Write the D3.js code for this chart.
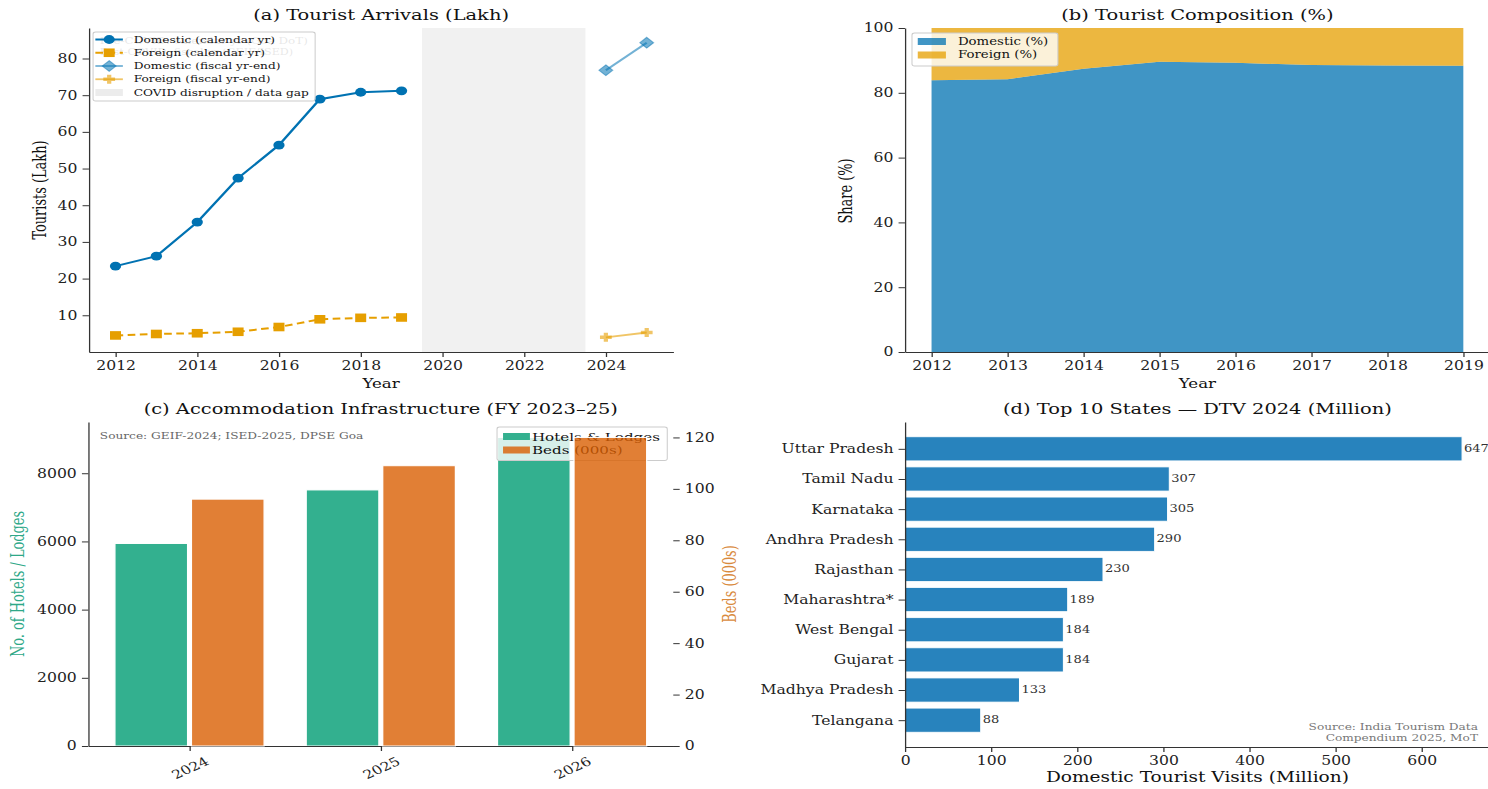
<!DOCTYPE html>
<html>
<head>
<meta charset="utf-8">
<script src="https://cdn.jsdelivr.net/npm/d3@7"></script>
<style>
  html, body { margin: 0; padding: 0; background: #ffffff; }
  svg { display: block; }
</style>
</head>
<body>
<svg id="fig"></svg>
<script>
// ---------- data ----------
const calYears      = [2012, 2013, 2014, 2015, 2016, 2017, 2018, 2019];
const domesticCal   = [23.4, 26.1, 35.4, 47.4, 56.4, 68.9, 70.8, 71.2];   // lakh
const foreignCal    = [4.5, 4.9, 5.1, 5.5, 6.8, 8.9, 9.3, 9.4];           // lakh
const fiscalYears   = [2024, 2025];
const domesticFisc  = [76.8, 84.3];
const foreignFisc   = [4.0, 5.3];
const covidGap      = [2019.5, 2023.5];
const arrivalsTicksX = [2012, 2014, 2016, 2018, 2020, 2022, 2024];
const arrivalsTicksY = [10, 20, 30, 40, 50, 60, 70, 80];

const shareTicksY   = [0, 20, 40, 60, 80, 100];

const infraYears    = ["2024", "2025", "2026"];
const hotelsLodges  = [5940, 7510, 9050];
const bedsThousands = [96, 109, 120];
const hotelTicks    = [0, 2000, 4000, 6000, 8000];
const bedTicks      = [0, 20, 40, 60, 80, 100, 120];

const states   = ["Uttar Pradesh", "Tamil Nadu", "Karnataka", "Andhra Pradesh", "Rajasthan",
                  "Maharashtra*", "West Bengal", "Gujarat", "Madhya Pradesh", "Telangana"];
const stateDTV = [647, 307, 305, 290, 230, 189, 184, 184, 133, 88];
const dtvTicks = [0, 100, 200, 300, 400, 500, 600];

// ---------- figure setup ----------
// The figure is laid out on a narrower canvas and stretched to the window width.
const SX = 1.28, W = 1488 / SX, H = 789;
const svg = d3.select("#fig")
  .attr("width", 1488).attr("height", H)
  .attr("viewBox", `0 0 ${W} ${H}`)
  .attr("preserveAspectRatio", "none");

const FONT = "DejaVu Serif, serif";
const FS = { title: 15.2, tick: 12.2, label: 13, ylabel: 14.4, legend: 9.5 };
const C_DOM = "#0072B2", C_FOR = "#E69F00";
const C_TEAL = "#33b08f", C_ORANGE = "#d95f02", C_BAR = "#2883bd";

const A = { x0: 69.5, x1: 526,  y0: 28,  y1: 352 };
const B = { x0: 707,  x1: 1164, y0: 28,  y1: 352 };
const C = { x0: 69,   x1: 526,  y0: 422, y1: 746 };
const D = { x0: 707,  x1: 1164, y0: 422, y1: 747 };

function styleAxis(g) {
  g.attr("font-family", FONT).attr("font-size", FS.tick);
  g.selectAll("path.domain").attr("stroke", "#333").attr("stroke-width", 1);
  g.selectAll(".tick line").attr("stroke", "#333").attr("stroke-width", 1);
  g.selectAll(".tick text").attr("fill", "#222");
  return g;
}
function padded(vals, frac = 0.05) {
  const lo = d3.min(vals), hi = d3.max(vals), p = (hi - lo) * frac;
  return [lo - p, hi + p];
}
function title(p, txt) {
  svg.append("text").attr("x", (p.x0 + p.x1) / 2).attr("y", p.y0 - 8)
    .attr("text-anchor", "middle").attr("font-family", FONT).attr("font-size", FS.title)
    .attr("fill", "#111").text(txt);
}
function xLabel(p, txt, dy = 36, size = FS.label) {
  svg.append("text").attr("x", (p.x0 + p.x1) / 2).attr("y", p.y1 + dy)
    .attr("text-anchor", "middle").attr("font-family", FONT).attr("font-size", size)
    .attr("fill", "#111").text(txt);
}
function yLabel(x, yc, txt, color = "#111") {
  svg.append("text").attr("transform", `translate(${x},${yc}) rotate(-90)`)
    .attr("text-anchor", "middle").attr("dominant-baseline", "central")
    .attr("font-family", FONT).attr("font-size", FS.ylabel).attr("font-stretch", "condensed")
    .attr("fill", color).text(txt);
}
function plusPath(s) {
  const w = s * 0.36;
  return `M${-w},${-s}H${w}V${-w}H${s}V${w}H${w}V${s}H${-w}V${w}H${-s}V${-w}H${-w}Z`;
}
function diamondPath(s) { return `M0,${-s}L${s},0L0,${s}L${-s},0Z`; }
function squarePath(s) { return `M${-s},${-s}H${s}V${s}H${-s}Z`; }

// ---------- (a) Tourist Arrivals ----------
const xA = d3.scaleLinear().domain(padded([...calYears, ...fiscalYears])).range([A.x0, A.x1]);
const yA = d3.scaleLinear()
  .domain(padded([...domesticCal, ...foreignCal, ...domesticFisc, ...foreignFisc]))
  .range([A.y1, A.y0]);

svg.append("rect").attr("x", xA(covidGap[0])).attr("y", A.y0)
  .attr("width", xA(covidGap[1]) - xA(covidGap[0])).attr("height", A.y1 - A.y0)
  .attr("fill", "#f1f1f1");

styleAxis(svg.append("g").attr("transform", `translate(0,${A.y1})`)
  .call(d3.axisBottom(xA).tickValues(arrivalsTicksX).tickFormat(d3.format("d"))
    .tickSize(5).tickPadding(4).tickSizeOuter(0)));
styleAxis(svg.append("g").attr("transform", `translate(${A.x0},0)`)
  .call(d3.axisLeft(yA).tickValues(arrivalsTicksY).tickSize(5).tickPadding(4).tickSizeOuter(0)));

const lineA = d3.line().x(d => xA(d[0])).y(d => yA(d[1]));
const zip = (xs, ys) => xs.map((x, i) => [x, ys[i]]);

// domestic, calendar year
svg.append("path").datum(zip(calYears, domesticCal)).attr("d", lineA)
  .attr("fill", "none").attr("stroke", C_DOM).attr("stroke-width", 2);
svg.selectAll(null).data(zip(calYears, domesticCal)).enter().append("circle")
  .attr("cx", d => xA(d[0])).attr("cy", d => yA(d[1])).attr("r", 4.4).attr("fill", C_DOM);
// foreign, calendar year
svg.append("path").datum(zip(calYears, foreignCal)).attr("d", lineA)
  .attr("fill", "none").attr("stroke", C_FOR).attr("stroke-width", 2).attr("stroke-dasharray", "6,3.5");
svg.selectAll(null).data(zip(calYears, foreignCal)).enter().append("path")
  .attr("transform", d => `translate(${xA(d[0])},${yA(d[1])})`).attr("d", squarePath(4.3)).attr("fill", C_FOR);
// domestic, fiscal year-end
svg.append("path").datum(zip(fiscalYears, domesticFisc)).attr("d", lineA)
  .attr("fill", "none").attr("stroke", C_DOM).attr("stroke-opacity", 0.55).attr("stroke-width", 1.8);
svg.selectAll(null).data(zip(fiscalYears, domesticFisc)).enter().append("path")
  .attr("transform", d => `translate(${xA(d[0])},${yA(d[1])})`).attr("d", diamondPath(5.4))
  .attr("fill", C_DOM).attr("fill-opacity", 0.55).attr("stroke", C_DOM).attr("stroke-opacity", 0.45);
// foreign, fiscal year-end
svg.append("path").datum(zip(fiscalYears, foreignFisc)).attr("d", lineA)
  .attr("fill", "none").attr("stroke", C_FOR).attr("stroke-opacity", 0.6).attr("stroke-width", 1.8);
svg.selectAll(null).data(zip(fiscalYears, foreignFisc)).enter().append("path")
  .attr("transform", d => `translate(${xA(d[0])},${yA(d[1])})`).attr("d", plusPath(4.6))
  .attr("fill", C_FOR).attr("fill-opacity", 0.6);

// data-source note (sits beneath the legend)
const noteA = svg.append("g").attr("font-family", FONT).attr("font-size", FS.legend).attr("fill", "#8a8a8a");
noteA.append("text").attr("x", 78).attr("y", 41).attr("dominant-baseline", "central")
  .attr("textLength", 162.5).attr("lengthAdjust", "spacingAndGlyphs")
  .text("Pre-COVID: calendar yr (Goa DoT)");
noteA.append("text").attr("x", 78).attr("y", 52).attr("dominant-baseline", "central")
  .attr("textLength", 151).attr("lengthAdjust", "spacingAndGlyphs")
  .text("Post-COVID: fiscal yr (GEIF/ISED)");

// legend (a)
const legA = svg.append("g").attr("font-family", FONT).attr("font-size", FS.legend);
legA.append("rect").attr("x", 72.7).attr("y", 32).attr("width", 173.5).attr("height", 69).attr("rx", 2)
  .attr("fill", "#fff").attr("fill-opacity", 0.8).attr("stroke", "#cccccc").attr("stroke-width", 0.8);
const legItemsA = [
  { label: "Domestic (calendar yr)", kind: "circle" },
  { label: "Foreign (calendar yr)", kind: "square" },
  { label: "Domestic (fiscal yr-end)", kind: "diamond" },
  { label: "Foreign (fiscal yr-end)", kind: "plus" },
  { label: "COVID disruption / data gap", kind: "span" }
];
legItemsA.forEach((it, i) => {
  const y = 39.5 + i * 13.25, g = legA.append("g").attr("transform", `translate(0,${y})`);
  if (it.kind === "circle") {
    g.append("line").attr("x1", 74.5).attr("x2", 96).attr("stroke", C_DOM).attr("stroke-width", 2);
    g.append("circle").attr("cx", 85.3).attr("r", 4.4).attr("fill", C_DOM);
  } else if (it.kind === "square") {
    g.append("line").attr("x1", 74.5).attr("x2", 96).attr("stroke", C_FOR).attr("stroke-width", 2).attr("stroke-dasharray", "6,3.5");
    g.append("path").attr("transform", "translate(85.3,0)").attr("d", squarePath(4.3)).attr("fill", C_FOR);
  } else if (it.kind === "diamond") {
    g.append("line").attr("x1", 74.5).attr("x2", 96).attr("stroke", C_DOM).attr("stroke-opacity", 0.55).attr("stroke-width", 1.8);
    g.append("path").attr("transform", "translate(85.3,0)").attr("d", diamondPath(5.4))
      .attr("fill", C_DOM).attr("fill-opacity", 0.55).attr("stroke", C_DOM).attr("stroke-opacity", 0.45);
  } else if (it.kind === "plus") {
    g.append("line").attr("x1", 74.5).attr("x2", 96).attr("stroke", C_FOR).attr("stroke-opacity", 0.6).attr("stroke-width", 1.8);
    g.append("path").attr("transform", "translate(85.3,0)").attr("d", plusPath(4.6)).attr("fill", C_FOR).attr("fill-opacity", 0.6);
  } else {
    g.append("rect").attr("x", 74.5).attr("y", -3.5).attr("width", 21.5).attr("height", 7).attr("fill", "#ececec");
  }
  g.append("text").attr("x", 104.5).attr("dominant-baseline", "central").attr("fill", "#111").text(it.label);
});

title(A, "(a) Tourist Arrivals (Lakh)");
xLabel(A, "Year");
yLabel(31, 190, "Tourists (Lakh)");

// ---------- (b) Tourist Composition ----------
const shares = calYears.map((yr, i) => {
  const dom = domesticCal[i] / (domesticCal[i] + foreignCal[i]) * 100;
  return { year: yr, dom, tot: 100 };
});
const xB = d3.scaleLinear().domain(padded(calYears)).range([B.x0, B.x1]);
const yB = d3.scaleLinear().domain([0, 100]).range([B.y1, B.y0]);

svg.append("defs").append("clipPath").attr("id", "clipB")
  .append("rect").attr("x", B.x0).attr("y", B.y0 - 1).attr("width", B.x1 - B.x0).attr("height", B.y1 - B.y0 + 2);
const gB = svg.append("g").attr("clip-path", "url(#clipB)");
gB.append("path").datum(shares)
  .attr("d", d3.area().x(d => xB(d.year)).y0(yB(0)).y1(d => yB(d.dom)))
  .attr("fill", C_DOM).attr("fill-opacity", 0.75);
gB.append("path").datum(shares)
  .attr("d", d3.area().x(d => xB(d.year)).y0(d => yB(d.dom)).y1(d => yB(d.tot)))
  .attr("fill", C_FOR).attr("fill-opacity", 0.75);

styleAxis(svg.append("g").attr("transform", `translate(0,${B.y1})`)
  .call(d3.axisBottom(xB).tickValues(calYears).tickFormat(d3.format("d"))
    .tickSize(5).tickPadding(4).tickSizeOuter(0)));
styleAxis(svg.append("g").attr("transform", `translate(${B.x0},0)`)
  .call(d3.axisLeft(yB).tickValues(shareTicksY).tickSize(5).tickPadding(4).tickSizeOuter(0)));

const legB = svg.append("g").attr("font-family", FONT).attr("font-size", 10.4);
legB.append("rect").attr("x", 712.5).attr("y", 33).attr("width", 114).attr("height", 33).attr("rx", 2)
  .attr("fill", "#fff").attr("fill-opacity", 0.8).attr("stroke", "#cccccc").attr("stroke-width", 0.8);
[["Domestic (%)", C_DOM], ["Foreign (%)", C_FOR]].forEach((it, i) => {
  const y = 41.5 + i * 13.5;
  legB.append("rect").attr("x", 717).attr("y", y - 3.5).attr("width", 22).attr("height", 7)
    .attr("fill", it[1]).attr("fill-opacity", 0.75);
  legB.append("text").attr("x", 748.4).attr("y", y).attr("dominant-baseline", "central")
    .attr("fill", "#111").text(it[0]);
});

title(B, "(b) Tourist Composition (%)");
xLabel(B, "Year");
yLabel(661, 191, "Share (%)");

// ---------- (c) Accommodation Infrastructure ----------
const nInfra = infraYears.length;
const xC = d3.scaleLinear().domain(padded([-0.39, nInfra - 1 + 0.39])).range([C.x0, C.x1]);
const yCL = d3.scaleLinear().domain([0, d3.max(hotelsLodges) * 1.05]).range([C.y1, C.y0]);
const yCR = d3.scaleLinear().domain([0, d3.max(bedsThousands) * 1.05]).range([C.y1, C.y0]);
const BW = 0.38, OFF = 0.2;

svg.selectAll(null).data(hotelsLodges).enter().append("rect")
  .attr("x", (d, i) => xC(i - OFF - BW / 2)).attr("width", xC(BW) - xC(0))
  .attr("y", d => yCL(d)).attr("height", d => yCL(0) - yCL(d))
  .attr("fill", C_TEAL).attr("stroke", "#fff").attr("stroke-width", 1);

const axCB = styleAxis(svg.append("g").attr("transform", `translate(0,${C.y1})`)
  .call(d3.axisBottom(xC).tickValues(d3.range(nInfra)).tickFormat(i => infraYears[i])
    .tickSize(5).tickSizeOuter(0)));
axCB.selectAll(".tick text").attr("y", 0).attr("dy", "0.35em")
  .attr("text-anchor", "middle").attr("transform", "translate(0,22) rotate(-30)");
styleAxis(svg.append("g").attr("transform", `translate(${C.x0},0)`)
  .call(d3.axisLeft(yCL).tickValues(hotelTicks).tickFormat(d3.format("d"))
    .tickSize(5).tickPadding(4).tickSizeOuter(0)));

svg.append("text").attr("x", 78).attr("y", 436).attr("dominant-baseline", "central")
  .attr("font-family", FONT).attr("font-size", FS.legend).attr("fill", "#666")
  .text("Source: GEIF-2024; ISED-2025, DPSE Goa");

const legC = svg.append("g").attr("font-family", FONT).attr("font-size", 11.8);
legC.append("rect").attr("x", 388.3).attr("y", 427).attr("width", 133).attr("height", 33.5).attr("rx", 2)
  .attr("fill", "#fff").attr("fill-opacity", 0.8).attr("stroke", "#cccccc").attr("stroke-width", 0.8);
[["Hotels & Lodges", C_TEAL, 1], ["Beds (000s)", C_ORANGE, 0.8]].forEach((it, i) => {
  const y = 436.5 + i * 13.5;
  legC.append("rect").attr("x", 393).attr("y", y - 3.5).attr("width", 21).attr("height", 7)
    .attr("fill", it[1]).attr("fill-opacity", it[2]);
  legC.append("text").attr("x", 415.6).attr("y", y).attr("dominant-baseline", "central")
    .attr("fill", "#111").text(it[0]);
});

// twin axis: beds drawn above the legend
svg.selectAll(null).data(bedsThousands).enter().append("rect")
  .attr("x", (d, i) => xC(i + OFF - BW / 2)).attr("width", xC(BW) - xC(0))
  .attr("y", d => yCR(d)).attr("height", d => yCR(0) - yCR(d))
  .attr("fill", C_ORANGE).attr("fill-opacity", 0.8).attr("stroke", "#fff").attr("stroke-width", 1);

const axCR = styleAxis(svg.append("g").attr("transform", `translate(${C.x1},0)`)
  .call(d3.axisRight(yCR).tickValues(bedTicks).tickSize(5).tickPadding(4).tickSizeOuter(0)));
axCR.select("path.domain").remove();

title(C, "(c) Accommodation Infrastructure (FY 2023\u201325)");
yLabel(14, 584, "No. of Hotels / Lodges", "#2ea888");
yLabel(570.3, 584, "Beds (000s)", "#d98a3d");

// ---------- (d) Top 10 States ----------
const xD = d3.scaleLinear().domain([0, d3.max(stateDTV) * 1.05]).range([D.x0, D.x1]);
const yD = d3.scaleLinear().domain(padded([-0.4, states.length - 1 + 0.4])).range([D.y0, D.y1]);
const BH = 0.8;

svg.selectAll(null).data(stateDTV).enter().append("rect")
  .attr("x", xD(0)).attr("width", d => xD(d) - xD(0))
  .attr("y", (d, i) => yD(i - BH / 2)).attr("height", yD(BH) - yD(0))
  .attr("fill", C_BAR).attr("stroke", "#fff").attr("stroke-width", 0.8);

svg.selectAll(null).data(stateDTV).enter().append("text")
  .attr("x", d => xD(d) + 1.5).attr("y", (d, i) => yD(i) - 0.5)
  .attr("dominant-baseline", "central").attr("font-family", FONT).attr("font-size", 10.2)
  .attr("fill", "#333").text(d => d3.format("d")(d));

styleAxis(svg.append("g").attr("transform", `translate(0,${D.y1})`)
  .call(d3.axisBottom(xD).tickValues(dtvTicks).tickSize(5).tickPadding(4).tickSizeOuter(0)));
styleAxis(svg.append("g").attr("transform", `translate(${D.x0},0)`)
  .call(d3.axisLeft(yD).tickValues(d3.range(states.length)).tickFormat(i => states[i])
    .tickSize(5).tickPadding(4).tickSizeOuter(0)));

const srcD = svg.append("g").attr("font-family", FONT).attr("font-size", FS.legend).attr("fill", "#777")
  .attr("text-anchor", "end");
srcD.append("text").attr("x", 1154.7).attr("y", 727).attr("dominant-baseline", "central")
  .text("Source: India Tourism Data");
srcD.append("text").attr("x", 1154.7).attr("y", 737.5).attr("dominant-baseline", "central")
  .text("Compendium 2025, MoT");

title(D, "(d) Top 10 States \u2014 DTV 2024 (Million)");
xLabel(D, "Domestic Tourist Visits (Million)", 35, 14.5);
</script>
</body>
</html>
